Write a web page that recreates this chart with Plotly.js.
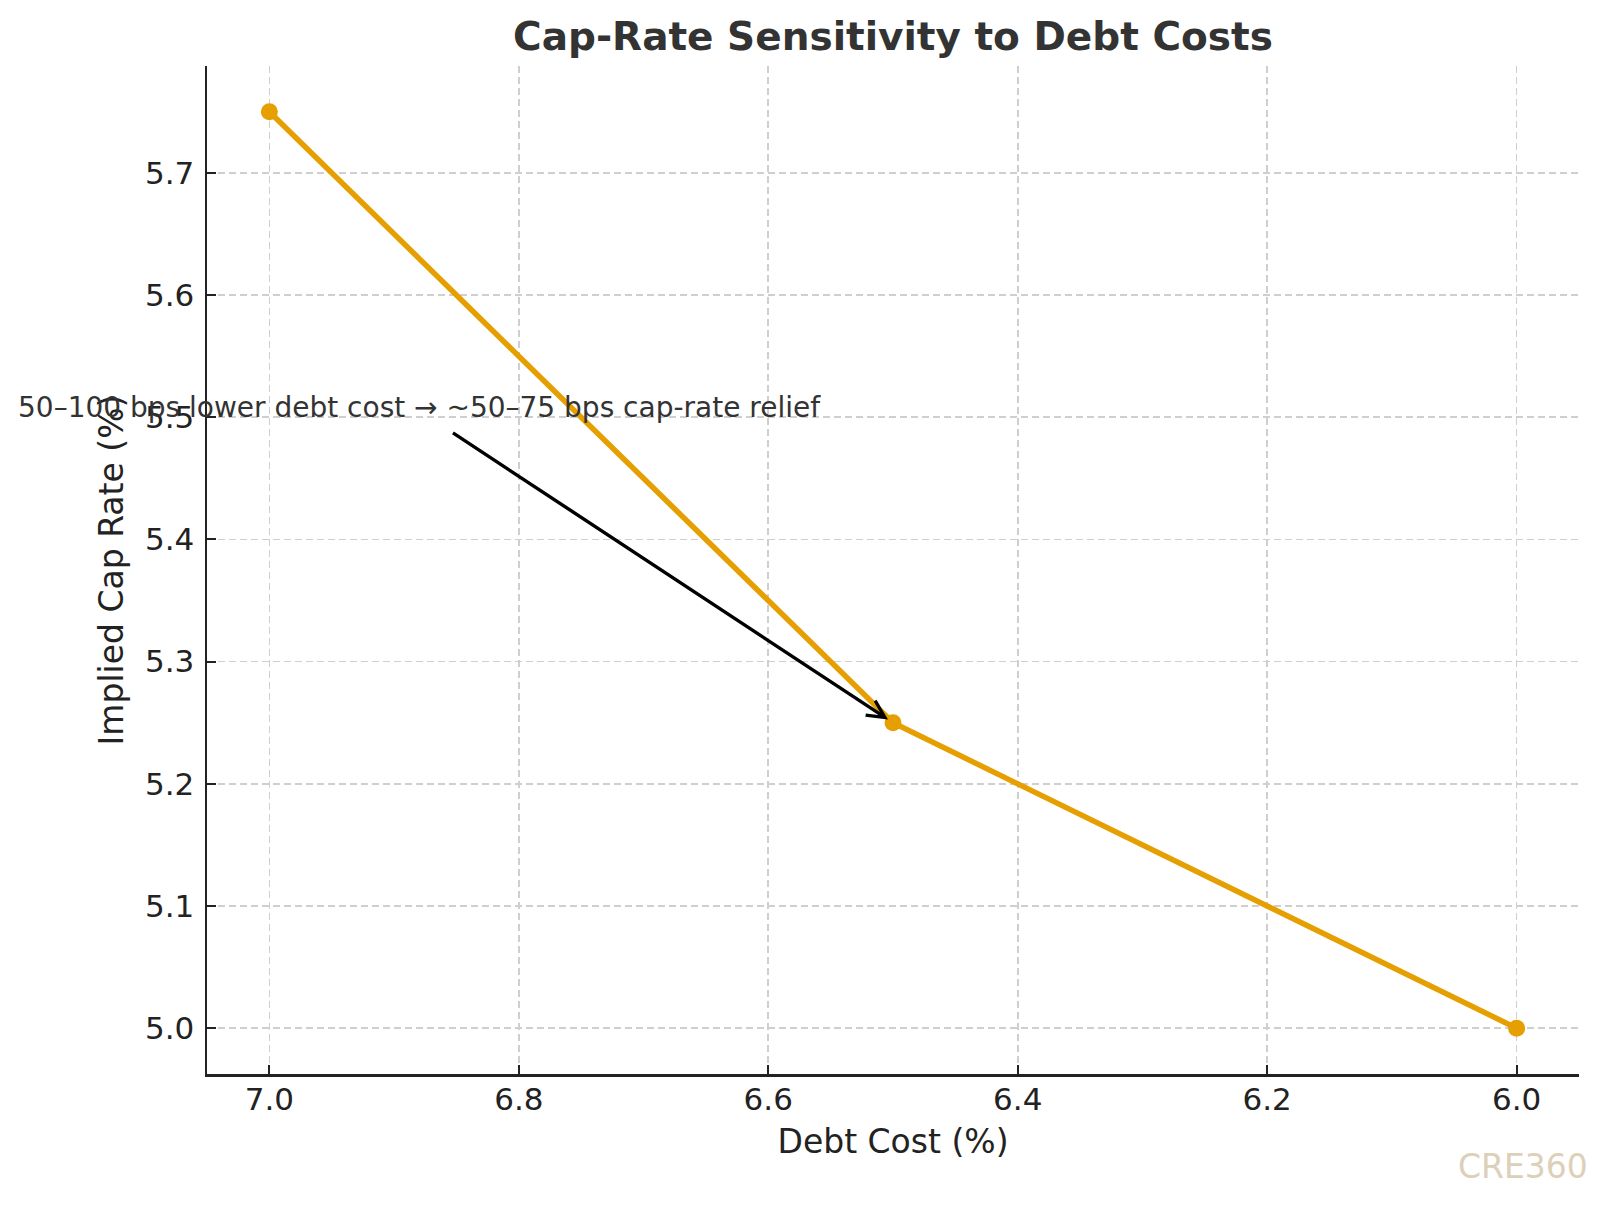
<!DOCTYPE html>
<html>
<head>
<meta charset="utf-8">
<script src="https://cdn.plot.ly/plotly-3.0.1.min.js"></script>
<style>
  html, body { margin: 0; padding: 0; background: #fff; }
  #chart { width: 1611px; height: 1205px; }
</style>
</head>
<body>
<div id="chart"></div>
<script>
// values
const debtCost = [7.0, 6.5, 6.0];
const capRate = [5.75, 5.25, 5.0];
const xTicks = [7.0, 6.8, 6.6, 6.4, 6.2, 6.0];
const yTicks = [5.0, 5.1, 5.2, 5.3, 5.4, 5.5, 5.6, 5.7];

const noteText = '50–100 bps lower debt cost → ~50–75 bps cap-rate relief';
const notePos = [6.88, 5.508];    // text centre
const arrowTail = [6.854, 5.488];
const arrowHead = [6.5, 5.25];

const font = 'DejaVu Sans, Verdana, sans-serif';
const orange = '#E69F00';

const trace = {
    x: debtCost,
    y: capRate,
    type: 'scatter',
    mode: 'lines+markers',
    line: { color: orange, width: 5.5 },
    marker: { color: orange, size: 17 },
    hoverinfo: 'skip'
};

const axisCommon = {
    showline: true,
    linecolor: '#222',
    linewidth: 2.5,
    ticks: 'inside',
    ticklen: 9,
    tickwidth: 2,
    tickcolor: '#222',
    tickfont: { family: font, size: 31, color: '#222' },
    tickformat: '.1f',
    showgrid: true,
    gridcolor: '#cfcfcf',
    gridwidth: 1.6,
    griddash: '7px,4px',
    zeroline: false,
    mirror: false
};

const layout = {
    width: 1611,
    height: 1205,
    margin: { l: 207, r: 32, t: 66, b: 131 },
    paper_bgcolor: '#fff',
    plot_bgcolor: '#fff',
    showlegend: false,
    title: {
        text: 'Cap-Rate Sensitivity to Debt Costs',
        font: { family: font, size: 39, color: '#333', weight: 'bold' },
        x: 0.5, xref: 'paper', xanchor: 'center',
        y: 1 - 36 / 1205, yref: 'container', yanchor: 'middle'
    },
    xaxis: Object.assign({}, axisCommon, {
        range: [7.05, 5.95],
        tickvals: xTicks,
        ticklabelstandoff: -4,
        title: { text: 'Debt Cost (%)', font: { family: font, size: 33, color: '#222' }, standoff: 14 }
    }),
    yaxis: Object.assign({}, axisCommon, {
        range: [4.9625, 5.7875],
        tickvals: yTicks,
        ticklabelstandoff: 4,
        title: { text: 'Implied Cap Rate (%)', font: { family: font, size: 33, color: '#222' }, standoff: 12 }
    }),
    annotations: [
        {
            x: notePos[0], y: notePos[1], xref: 'x', yref: 'y',
            text: noteText, showarrow: false,
            xanchor: 'center', yanchor: 'middle',
            font: { family: font, size: 28, color: '#333' }
        },
        {
            x: arrowHead[0], y: arrowHead[1], xref: 'x', yref: 'y',
            ax: arrowTail[0], ay: arrowTail[1], axref: 'x', ayref: 'y',
            text: '', showarrow: true,
            arrowhead: 5, arrowsize: 1.0, arrowwidth: 3.4, arrowcolor: '#000',
            standoff: 6
        },
        {
            x: 1.008, y: -0.0913, xref: 'paper', yref: 'paper',
            text: 'CRE360', showarrow: false,
            xanchor: 'right', yanchor: 'middle',
            font: { family: font, size: 33, color: '#DDD0B8' }
        }
    ]
};

Plotly.newPlot('chart', [trace], layout, { displayModeBar: false, staticPlot: true });
</script>
</body>
</html>
